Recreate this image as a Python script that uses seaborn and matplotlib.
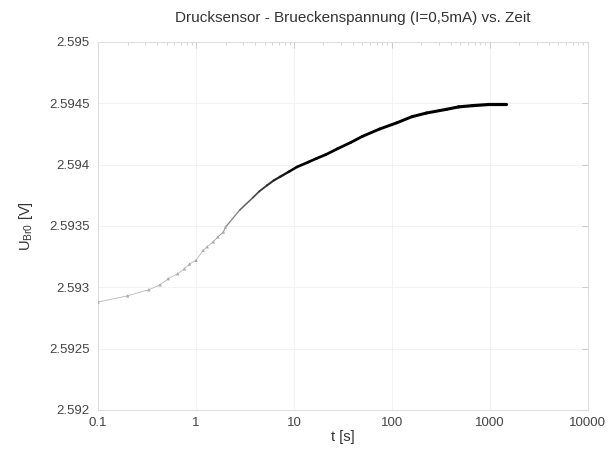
import numpy as np
import pandas as pd
import matplotlib
matplotlib.use("Agg")
import matplotlib.pyplot as plt
import seaborn as sns
from matplotlib.ticker import FixedLocator, FuncFormatter, LogLocator, NullFormatter

# ---- data ----
t_s = [0.1, 0.2, 0.33, 0.43, 0.52, 0.65, 0.76, 0.86, 1.0, 1.18, 1.3, 1.5, 1.67, 1.9,
       2.0, 2.8, 3.8, 4.4, 5.3, 6.2, 7.2, 8.8, 10.7, 14, 17, 21, 28, 38, 50, 75, 112,
       160, 225, 360, 480, 660, 1000, 1450]
u_v = [2.59288, 2.59293, 2.59298, 2.59302, 2.59307, 2.59311, 2.59315, 2.59319, 2.59322,
       2.59330, 2.59333, 2.59337, 2.59341, 2.59345, 2.59349, 2.59363, 2.59373, 2.59378,
       2.59383, 2.59387, 2.59390, 2.59394, 2.59398, 2.59402, 2.59405, 2.59408, 2.59413,
       2.59418, 2.59423, 2.59429, 2.59434, 2.59439, 2.59442, 2.59445, 2.59447, 2.59448,
       2.59449, 2.59449]
x_ticks = [0.1, 1, 10, 100, 1000, 10000]
y_ticks = [2.592, 2.5925, 2.593, 2.5935, 2.594, 2.5945, 2.595]
title = "Drucksensor - Brueckenspannung (I=0,5mA) vs. Zeit"
xlabel = "t [s]"
ylabel = r"U$_\mathregular{Br0}$ [V]"

df = pd.DataFrame({"t": t_s, "u": u_v})

sns.set_style("white")
plt.rcParams["font.family"] = ["Liberation Sans", "DejaVu Sans"]

fig = plt.figure(figsize=(6.13, 4.5), dpi=100)
ax = fig.add_axes([0.160, 0.089, 0.799, 0.818])

# segments with increasing darkness / width (density of samples grows with log t)
for i in range(len(df) - 1):
    seg = df.iloc[i:i + 2]
    lt = np.log10(seg["t"].mean())
    f = np.clip((lt - 0.15) / 0.9, 0, 1)
    g = 0.72 * (1 - f) ** 1.2
    lw = 0.6 + 1.3 * f + 0.4 * np.clip((lt - 1.0) / 2.0, 0, 1)
    sns.lineplot(data=seg, x="t", y="u", ax=ax, color=(g, g, g), linewidth=lw,
                 solid_capstyle="round", estimator=None, sort=False)

early = df[df["t"] <= 2.0]
sns.scatterplot(data=early, x="t", y="u", ax=ax, color="#aaaaaa", s=6,
                marker="^", edgecolor="none", zorder=3)

ax.set_xscale("log")
ax.set_xlim(0.1, 10000)
ax.set_ylim(2.592, 2.595)
ax.xaxis.set_major_locator(FixedLocator(x_ticks))
ax.xaxis.set_major_formatter(FuncFormatter(lambda v, p: f"{v:g}"))
ax.xaxis.set_minor_locator(LogLocator(base=10, subs=np.arange(2, 10)))
ax.xaxis.set_minor_formatter(NullFormatter())
ax.yaxis.set_major_locator(FixedLocator(y_ticks))
ax.yaxis.set_major_formatter(FuncFormatter(lambda v, p: f"{v:.5g}"))

ax.grid(True, which="major", color="#f0f0f0", linewidth=0.6)
for s in ax.spines.values():
    s.set_color("#dddddd")
    s.set_linewidth(0.8)
ax.tick_params(which="both", direction="in", top=True, right=True, color="#cccccc",
               labelcolor="#444444", labelsize=9.5)
ax.tick_params(which="major", length=4)
ax.tick_params(which="minor", length=2)
ax.tick_params(axis="x", pad=5)
ax.tick_params(axis="y", pad=6)

ax.set_title(title, fontsize=11, color="#333333", pad=14, x=0.52)
ax.set_xlabel(xlabel, fontsize=10.5, color="#333333", labelpad=1)
ax.set_ylabel(ylabel, fontsize=10.5, color="#333333", labelpad=10)

fig.savefig("out.png", dpi=100)
